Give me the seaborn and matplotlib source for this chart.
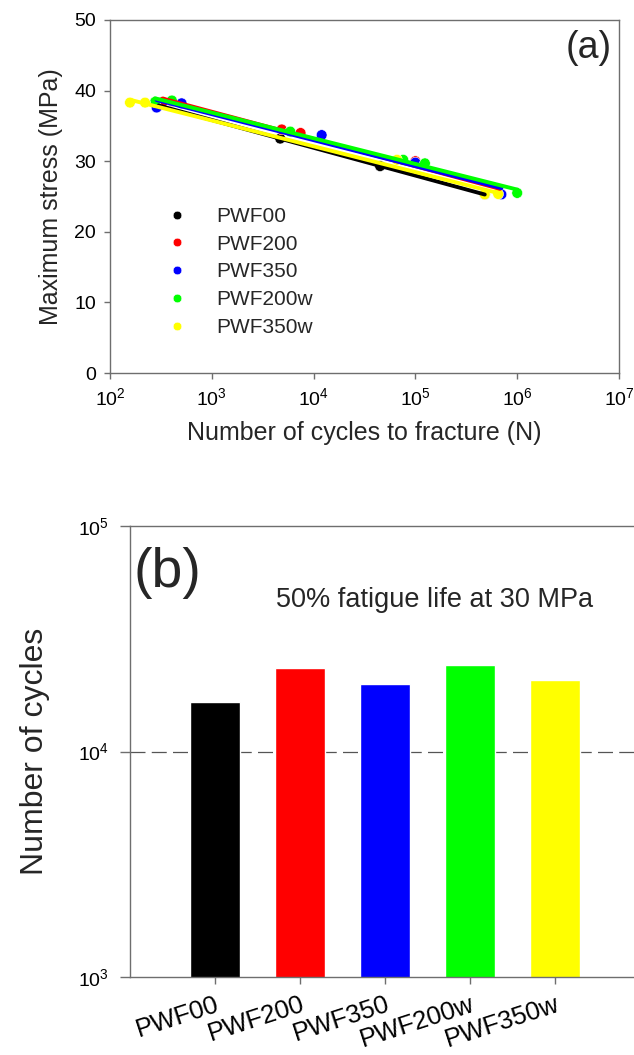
import numpy as np
import pandas as pd
import matplotlib
matplotlib.use("Agg")
import matplotlib.pyplot as plt
import seaborn as sns

# (a) S-N data
series = ["PWF00", "PWF200", "PWF350", "PWF200w", "PWF350w"]
colors = ["#000000", "#ff0000", "#0000ff", "#00ff00", "#ffff00"]

n_pwf00 = [300, 4700, 45000, 480000]
s_pwf00 = [37.9, 33.2, 29.3, 25.3]
n_pwf200 = [330, 405, 4860, 7450, 100000, 680000]
s_pwf200 = [38.4, 38.5, 34.5, 34.0, 30.0, 25.35]
n_pwf350 = [287, 505, 12000, 100000, 700000]
s_pwf350 = [37.6, 38.2, 33.7, 29.8, 25.3]
n_pwf200w = [277, 405, 5900, 76000, 124000, 1000000]
s_pwf200w = [38.4, 38.6, 34.2, 30.2, 29.7, 25.5]
n_pwf350w = [157, 221, 66000, 480000, 650000]
s_pwf350w = [38.3, 38.3, 30.2, 25.3, 25.35]

# (b) 50% fatigue life at 30 MPa
bar_names = ["PWF00", "PWF200", "PWF350", "PWF200w", "PWF350w"]
bar_cycles = [16500, 23500, 20000, 24200, 20800]

cycles = [n_pwf00, n_pwf200, n_pwf350, n_pwf200w, n_pwf350w]
stress = [s_pwf00, s_pwf200, s_pwf350, s_pwf200w, s_pwf350w]
df = pd.concat([pd.DataFrame({"N": n, "S": s, "grade": g})
                for n, s, g in zip(cycles, stress, series)], ignore_index=True)

sns.set_style("ticks")
plt.rcParams["font.family"] = ["Liberation Sans", "DejaVu Sans"]
plt.rcParams["mathtext.default"] = "regular"
axis_col = "#6e6e6e"

fig = plt.figure(figsize=(6.34, 10.55), dpi=100)
W, H = 634, 1055
ax1 = fig.add_axes([110 / W, 1 - 373 / H, 509 / W, 353 / H])
ax2 = fig.add_axes([130 / W, 1 - 977 / H, 510 / W, 451 / H])

# ---- panel (a)
ax1.set_xscale("log")
sns.scatterplot(data=df, x="N", y="S", hue="grade", palette=colors,
                s=60, edgecolor="white", linewidth=0.4, ax=ax1, zorder=3)
for i in [0, 1, 2, 4, 3]:
    sns.regplot(x=np.array(cycles[i]), y=np.array(stress[i]), logx=True, ci=None,
                scatter=False, color=colors[i], line_kws={"lw": 2.8, "zorder": 4},
                ax=ax1)
ax1.set_xlim(1e2, 1e7)
ax1.set_ylim(0, 50)
ax1.set_yticks([0, 10, 20, 30, 40, 50])
ax1.set_xticks([1e2, 1e3, 1e4, 1e5, 1e6, 1e7])
ax1.minorticks_off()
ax1.set_xlabel("Number of cycles to fracture (N)", fontsize=18, labelpad=9)
ax1.set_ylabel("Maximum stress (MPa)", fontsize=18, labelpad=8)
ax1.text(0.985, 0.92, "(a)", transform=ax1.transAxes, ha="right", va="center",
         fontsize=27)
handles, labels = ax1.get_legend_handles_labels()
ax1.legend(handles, labels, frameon=False, loc="upper left",
           bbox_to_anchor=(0.07, 0.50), fontsize=15, markerscale=0.8,
           handletextpad=0.9, labelspacing=0.42, borderpad=0)

# ---- panel (b)
sns.barplot(x=bar_names, y=bar_cycles, hue=bar_names, palette=colors,
            saturation=1, width=0.59, legend=False, ax=ax2)
ax2.set_yscale("log")
ax2.set_ylim(1e3, 1e5)
ax2.set_xlim(-1, 5)
ax2.minorticks_off()
ax2.axhline(1e4, color="#555555", lw=0.9, ls=(0, (12, 5)), zorder=0)
ax2.set_ylabel("Number of cycles", fontsize=23, labelpad=20)
ax2.set_xlabel("")
ax2.set_xticks(range(len(bar_names)))
ax2.set_xticklabels(bar_names, rotation=18, ha="right", rotation_mode="anchor",
                    fontsize=18.5)
ax2.text(0.006, 0.896, "(b)", transform=ax2.transAxes, ha="left", va="center",
         fontsize=40)
ax2.text(0.598, 0.835, "50% fatigue life at 30 MPa", transform=ax2.transAxes,
         ha="center", va="center", fontsize=19.5)

for ax in (ax1, ax2):
    for sp in ax.spines.values():
        sp.set_visible(True)
        sp.set_color(axis_col)
        sp.set_linewidth(1.0)
    ax.tick_params(colors=axis_col, labelcolor="black", direction="out", width=1.0)
ax1.tick_params(length=4, labelsize=14, pad=6)
ax2.tick_params(axis="y", length=7, labelsize=14, pad=8)
ax2.tick_params(axis="x", length=5, pad=6)

fig.savefig("out.png", dpi=100)
